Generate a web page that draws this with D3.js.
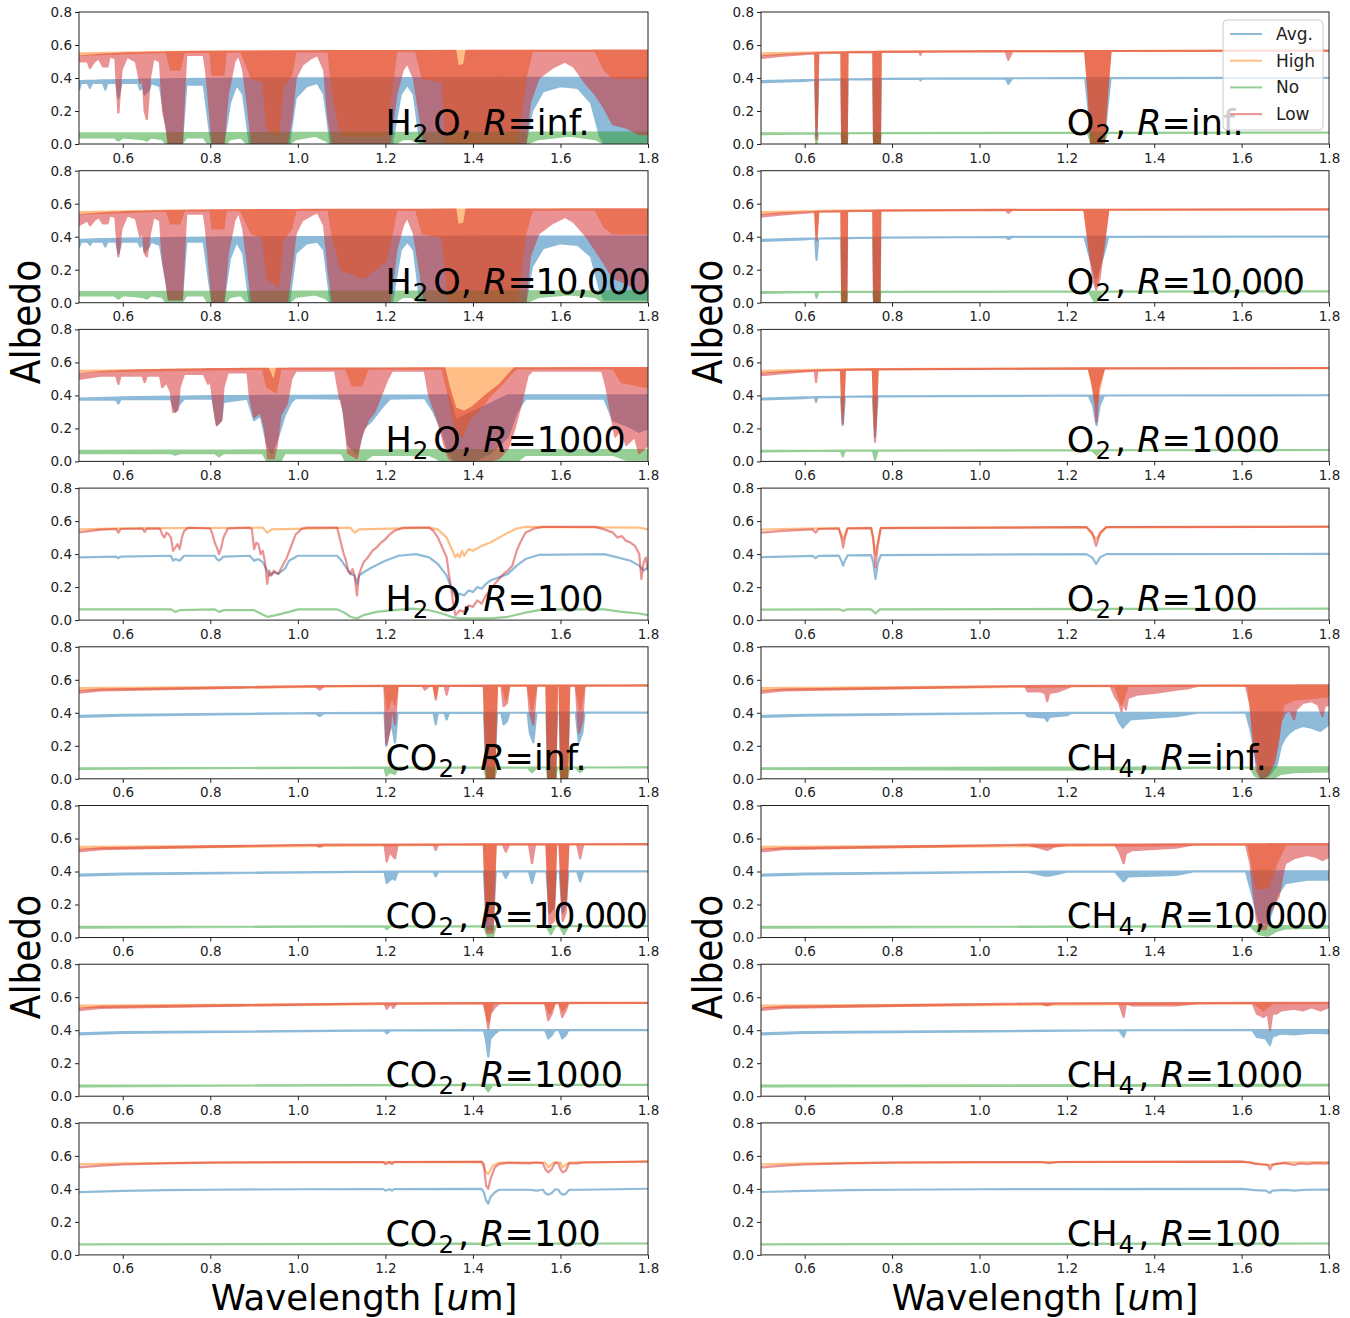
<!DOCTYPE html>
<html><head><meta charset="utf-8">
<script src="https://cdn.jsdelivr.net/npm/d3@7"></script>
<style>html,body{margin:0;padding:0;background:#fff;}svg{display:block;font-family:"DejaVu Sans",sans-serif;}</style>
</head><body>
<script>
// ---------------- DATA ----------------
const X_TICKS = [0.6, 0.8, 1.0, 1.2, 1.4, 1.6, 1.8];
const Y_TICKS = [0.0, 0.2, 0.4, 0.6, 0.8];
const SERIES_NAMES = ["Avg.", "High", "No", "Low"];

// continuum level of each series (albedo vs wavelength)
const CONT_AVG  = [[0.5,0.381],[0.55,0.385],[0.6,0.388],[0.7,0.392],[0.8,0.395],[1.0,0.398],[1.4,0.400],[1.8,0.401]];
const CONT_HIGH = [[0.5,0.549],[0.6,0.555],[0.7,0.558],[0.8,0.560],[1.0,0.562],[1.4,0.564],[1.8,0.565]];
const CONT_NO   = [[0.5,0.064],[1.0,0.067],[1.8,0.069]];
const CONT_LOW  = [[0.5,0.530],[0.55,0.541],[0.6,0.548],[0.7,0.555],[0.8,0.559],[1.0,0.562],[1.4,0.564],[1.8,0.566]];

// band panels: [wl] = at continuum, [wl, lower envelope], [wl, lower, upper]
const H2O_INF_LOW = [[0.5,0.50],[0.52,0.50],[0.525,0.46],[0.535,0.50],[0.545,0.52],[0.555,0.47],[0.565,0.47],[0.57,0.53],[0.583,0.52],[0.59,0.19],[0.597,0.45],[0.61,0.53],[0.63,0.50],[0.64,0.37],[0.645,0.45],[0.65,0.20],[0.655,0.15],[0.662,0.40],[0.67,0.52],[0.685,0.50],[0.692,0.20],[0.70,0.10],[0.705,0.0],[0.735,0.0],[0.74,0.30],[0.745,0.54],[0.785,0.54],[0.79,0.45],[0.795,0.32],[0.805,0.0],[0.83,0.0],[0.84,0.30],[0.855,0.50],[0.865,0.54],[0.875,0.45],[0.885,0.25],[0.895,0.0],[0.975,0.0],[0.985,0.15],[0.995,0.40],[1.01,0.48],[1.03,0.52],[1.045,0.54],[1.06,0.45],[1.07,0.15],[1.08,0.0],[1.21,0.0],[1.225,0.30],[1.24,0.45],[1.25,0.49],[1.265,0.40],[1.28,0.15],[1.29,0.0],[1.36,0.0],[1.365,0,0.47],[1.38,0,0.48],[1.385,0.0],[1.52,0.0],[1.53,0.25],[1.55,0.40],[1.58,0.46],[1.61,0.50],[1.63,0.47],[1.66,0.36],[1.68,0.30],[1.70,0.22],[1.72,0.12],[1.75,0.10],[1.78,0.06],[1.8,0.06]];
const H2O_INF_HIGH = [[0.5,0.54],[0.70],[0.71,0.45],[0.73,0.45],[0.74],[0.80],[0.805,0.42],[0.83,0.42],[0.835],[0.87],[0.88,0.50],[0.895,0.40],[0.92,0.38],[0.93,0.10],[0.955,0.05],[0.965,0.35],[0.985,0.42],[0.995],[1.07],[1.08,0.30],[1.10,0.05],[1.20,0.05],[1.215,0.35],[1.225],[1.27],[1.285,0.40],[1.33,0.38],[1.34,0.0],[1.50,0.0],[1.52,0.40],[1.535],[1.68],[1.70,0.45],[1.72,0.40],[1.8,0.40]];
const H2O_INF_AVG = [[0.5,0.33],[0.505,0.37],[0.52,0.37],[0.525,0.34],[0.53,0.37],[0.555,0.37],[0.56,0.33],[0.565,0.37],[0.585,0.37],[0.59,0.28],[0.597,0.37],[0.635,0.37],[0.64,0.33],[0.645,0.36],[0.65,0.30],[0.66,0.33],[0.665,0.37],[0.685,0.35],[0.70,0.10],[0.705,0.0],[0.735,0.0],[0.745,0.36],[0.785,0.36],[0.80,0.05],[0.805,0.0],[0.83,0.0],[0.845,0.25],[0.86,0.36],[0.875,0.30],[0.89,0.0],[0.98,0.0],[0.995,0.28],[1.02,0.35],[1.045,0.37],[1.06,0.30],[1.075,0.0],[1.215,0.0],[1.235,0.30],[1.25,0.36],[1.265,0.30],[1.28,0.0],[1.52,0.0],[1.535,0.20],[1.56,0.32],[1.60,0.35],[1.64,0.34],[1.67,0.25],[1.69,0.05],[1.70,0.0],[1.8,0.0]];
const H2O_INF_NO = [[0.5,0.04],[0.58,0.04],[0.59,0.02],[0.60,0.04],[0.645,0.03],[0.655,0.02],[0.665,0.04],[0.69,0.03],[0.70,0.0],[0.735,0.0],[0.745,0.04],[0.785,0.04],[0.795,0.0],[0.835,0.0],[0.845,0.03],[0.87,0.04],[0.885,0.0],[0.98,0.0],[0.995,0.03],[1.04,0.05],[1.065,0.02],[1.075,0.0],[1.22,0.0],[1.24,0.03],[1.26,0.03],[1.28,0.0],[1.52,0.0],[1.55,0.03],[1.62,0.05],[1.68,0.03],[1.70,0.0],[1.8,0.0]];

const H2O_10K_LOW = [[0.5,0.47],[0.52,0.50],[0.525,0.47],[0.535,0.50],[0.545,0.52],[0.555,0.48],[0.565,0.48],[0.57,0.53],[0.583,0.52],[0.59,0.28],[0.597,0.45],[0.61,0.53],[0.63,0.51],[0.64,0.40],[0.645,0.46],[0.65,0.30],[0.655,0.28],[0.662,0.42],[0.67,0.52],[0.685,0.50],[0.692,0.25],[0.70,0.12],[0.705,0.02],[0.735,0.02],[0.74,0.30],[0.745,0.54],[0.785,0.54],[0.79,0.45],[0.795,0.30],[0.805,0.0],[0.83,0.0],[0.84,0.30],[0.855,0.50],[0.865,0.55],[0.875,0.45],[0.885,0.25],[0.895,0.0],[0.975,0.0],[0.985,0.20],[0.995,0.42],[1.01,0.50],[1.03,0.53],[1.045,0.55],[1.06,0.47],[1.07,0.20],[1.08,0.0],[1.21,0.0],[1.225,0.32],[1.24,0.47],[1.25,0.52],[1.265,0.42],[1.28,0.18],[1.29,0.0],[1.36,0.0],[1.365,0,0.47],[1.38,0,0.48],[1.385,0.0],[1.52,0.0],[1.53,0.28],[1.55,0.42],[1.58,0.48],[1.61,0.52],[1.63,0.49],[1.66,0.40],[1.68,0.32],[1.70,0.24],[1.72,0.15],[1.75,0.12],[1.78,0.08],[1.8,0.08]];
const H2O_10K_HIGH = [[0.5,0.54],[0.70],[0.71,0.48],[0.73,0.48],[0.74],[0.80],[0.805,0.45],[0.83,0.45],[0.835],[0.87],[0.88,0.50],[0.895,0.42],[0.92,0.40],[0.93,0.15],[0.955,0.10],[0.965,0.38],[0.985,0.45],[0.995],[1.07],[1.08,0.40],[1.10,0.20],[1.15,0.15],[1.20,0.25],[1.215,0.42],[1.225],[1.27],[1.285,0.42],[1.33,0.40],[1.345,0.0],[1.50,0.0],[1.52,0.42],[1.535],[1.68],[1.70,0.46],[1.72,0.42],[1.8,0.42]];
const H2O_10K_AVG = [[0.5,0.34],[0.505,0.37],[0.52,0.37],[0.525,0.35],[0.53,0.37],[0.555,0.37],[0.56,0.34],[0.565,0.37],[0.585,0.37],[0.59,0.30],[0.597,0.37],[0.635,0.37],[0.64,0.34],[0.645,0.36],[0.65,0.31],[0.66,0.34],[0.665,0.37],[0.685,0.35],[0.70,0.12],[0.705,0.02],[0.735,0.02],[0.745,0.37],[0.785,0.37],[0.80,0.08],[0.805,0.0],[0.83,0.0],[0.845,0.27],[0.86,0.37],[0.875,0.30],[0.89,0.0],[0.98,0.0],[0.995,0.30],[1.02,0.36],[1.045,0.37],[1.06,0.32],[1.075,0.0],[1.215,0.0],[1.235,0.32],[1.25,0.37],[1.265,0.32],[1.28,0.0],[1.52,0.0],[1.535,0.22],[1.56,0.33],[1.60,0.36],[1.64,0.35],[1.67,0.28],[1.69,0.08],[1.70,0.02],[1.8,0.02]];
const H2O_10K_NO = [[0.5,0.045],[0.58,0.045],[0.59,0.025],[0.60,0.045],[0.645,0.035],[0.655,0.025],[0.665,0.045],[0.69,0.035],[0.70,0.0],[0.735,0.0],[0.745,0.045],[0.785,0.045],[0.795,0.0],[0.835,0.0],[0.845,0.035],[0.87,0.045],[0.885,0.0],[0.98,0.0],[0.995,0.035],[1.04,0.05],[1.065,0.025],[1.075,0.0],[1.22,0.0],[1.24,0.035],[1.26,0.035],[1.28,0.0],[1.52,0.0],[1.55,0.035],[1.62,0.05],[1.68,0.035],[1.70,0.0],[1.8,0.0]];

const H2O_1K_LOW = [[0.5,0.50],[0.55,0.52],[0.585,0.52],[0.59,0.47],[0.595,0.52],[0.645,0.52],[0.65,0.48],[0.655,0.52],[0.685,0.52],[0.69,0.45],[0.70,0.48],[0.71,0.42],[0.715,0.30],[0.725,0.31],[0.73,0.45],[0.74,0.53],[0.785,0.53],[0.795,0.47],[0.80,0.50],[0.81,0.30],[0.815,0.22],[0.825,0.25],[0.83,0.45],[0.84,0.54],[0.885,0.54],[0.89,0.40],[0.90,0.27],[0.915,0.30],[0.925,0.20],[0.932,0.02],[0.945,0.02,0.48],[0.952,0.10],[0.96,0.28],[0.975,0.35],[0.985,0.50],[0.995,0.55],[1.085,0.55],[1.095,0.40],[1.105,0.30],[1.115,0.05],[1.135,0.02],[1.145,0.15],[1.16,0.25],[1.175,0.30],[1.19,0.40],[1.205,0.50],[1.215,0.55],[1.29,0.55],[1.30,0.40],[1.32,0.25],[1.335,0.10],[1.345,0.02,0.45],[1.36,0.0,0.32],[1.38,0.0,0.30],[1.40,0.0,0.33],[1.43,0.0,0.40],[1.46,0.02,0.46],[1.48,0.08,0.52],[1.495,0.20],[1.51,0.35],[1.525,0.52],[1.535,0.55],[1.695,0.55],[1.705,0.45],[1.715,0.30],[1.725,0.15],[1.74,0.20],[1.75,0.10],[1.77,0.15],[1.78,0.05],[1.8,0.10]];
const H2O_1K_HIGH = [[0.5,0.545],[0.92],[0.93,0.45],[0.95,0.42],[0.96],[1.11],[1.125,0.46],[1.145,0.46],[1.16],[1.33],[1.345,0.40],[1.36,0.20],[1.375,0.15],[1.39,0.25],[1.41,0.30],[1.44,0.40],[1.47,0.48],[1.49,0.54],[1.50],[1.72],[1.74,0.48],[1.8,0.45]];
const H2O_1K_AVG = [[0.5,0.375],[0.585,0.375],[0.59,0.35],[0.595,0.378],[0.71,0.378],[0.72,0.30],[0.73,0.35],[0.74,0.38],[0.805,0.38],[0.815,0.22],[0.825,0.25],[0.83,0.36],[0.885,0.38],[0.90,0.25],[0.915,0.28],[0.93,0.10],[0.94,0.05],[0.955,0.15],[0.97,0.28],[0.985,0.36],[0.995,0.385],[1.10,0.38],[1.115,0.10],[1.135,0.05],[1.15,0.20],[1.17,0.25],[1.19,0.32],[1.21,0.38],[1.29,0.385],[1.31,0.30],[1.33,0.18],[1.345,0.05],[1.36,0.0,0.25],[1.40,0.0,0.30],[1.44,0.05,0.35],[1.48,0.15],[1.50,0.30],[1.52,0.38],[1.70,0.38],[1.72,0.25],[1.75,0.22],[1.78,0.18],[1.8,0.20]];
const H2O_1K_NO = [[0.5,0.05],[0.71,0.05],[0.72,0.04],[0.73,0.05],[0.81,0.05],[0.82,0.03],[0.83,0.05],[0.92,0.05],[0.93,0.0],[0.96,0.0],[0.97,0.05],[1.10,0.05],[1.11,0.0],[1.15,0.0],[1.17,0.04],[1.30,0.04],[1.33,0.0],[1.50,0.0],[1.52,0.04],[1.72,0.04],[1.75,0.01],[1.8,0.01]];

// line panels: [wl] = at continuum, [wl, value]
const H2O_100_LOW = [[0.5,0.532],[0.55,0.548],[0.585,0.552],[0.59,0.53],[0.595,0.552],[0.645,0.555],[0.65,0.535],[0.655,0.555],[0.685,0.555],[0.69,0.52],[0.695,0.50],[0.70,0.53],[0.705,0.52],[0.71,0.50],[0.715,0.42],[0.72,0.44],[0.725,0.46],[0.73,0.43],[0.735,0.50],[0.74,0.54],[0.75,0.56],[0.80,0.555],[0.805,0.52],[0.81,0.47],[0.815,0.44],[0.82,0.40],[0.825,0.44],[0.83,0.50],[0.84,0.555],[0.89,0.56],[0.895,0.55],[0.90,0.43],[0.905,0.47],[0.91,0.46],[0.915,0.40],[0.92,0.42],[0.925,0.35],[0.93,0.22],[0.935,0.30],[0.94,0.27],[0.945,0.30],[0.955,0.28],[0.965,0.33],[0.975,0.38],[0.985,0.45],[0.995,0.52],[1.01,0.555],[1.02,0.56],[1.09,0.56],[1.10,0.45],[1.105,0.40],[1.11,0.36],[1.115,0.30],[1.12,0.28],[1.125,0.31],[1.13,0.26],[1.135,0.15],[1.14,0.28],[1.15,0.35],[1.16,0.38],[1.17,0.42],[1.18,0.44],[1.19,0.47],[1.20,0.49],[1.21,0.52],[1.22,0.54],[1.24,0.56],[1.30,0.56],[1.31,0.54],[1.32,0.50],[1.33,0.44],[1.34,0.38],[1.345,0.28],[1.35,0.20],[1.355,0.10],[1.36,0.03],[1.37,0.06],[1.38,0.05],[1.39,0.09],[1.40,0.08],[1.41,0.12],[1.42,0.10],[1.43,0.15],[1.44,0.18],[1.45,0.22],[1.46,0.25],[1.47,0.28],[1.48,0.30],[1.49,0.33],[1.50,0.42],[1.51,0.48],[1.52,0.53],[1.54,0.555],[1.56,0.565],[1.68,0.565],[1.70,0.55],[1.72,0.53],[1.73,0.50],[1.74,0.51],[1.75,0.48],[1.76,0.47],[1.77,0.45],[1.78,0.40],[1.785,0.25],[1.79,0.35],[1.795,0.38],[1.8,0.30]];
const H2O_100_HIGH = [[0.5,0.55],[0.6,0.556],[0.92,0.56],[0.93,0.53],[0.94,0.55],[1.12,0.56],[1.13,0.53],[1.14,0.55],[1.30,0.56],[1.32,0.55],[1.34,0.50],[1.35,0.44],[1.36,0.38],[1.365,0.40],[1.37,0.38],[1.375,0.42],[1.38,0.39],[1.39,0.43],[1.40,0.42],[1.42,0.45],[1.44,0.47],[1.46,0.50],[1.48,0.53],[1.50,0.555],[1.52,0.565],[1.78,0.56],[1.8,0.55]];
const H2O_100_AVG = [[0.5,0.38],[0.585,0.385],[0.59,0.375],[0.595,0.385],[0.71,0.39],[0.715,0.36],[0.72,0.37],[0.73,0.36],[0.74,0.39],[0.81,0.39],[0.815,0.37],[0.82,0.36],[0.83,0.385],[0.89,0.39],[0.90,0.36],[0.91,0.37],[0.92,0.35],[0.93,0.30],[0.935,0.27],[0.945,0.29],[0.955,0.28],[0.97,0.31],[0.98,0.36],[1.0,0.39],[1.09,0.39],[1.10,0.36],[1.11,0.32],[1.12,0.28],[1.13,0.27],[1.135,0.22],[1.14,0.27],[1.15,0.29],[1.17,0.32],[1.20,0.36],[1.23,0.39],[1.27,0.40],[1.30,0.38],[1.32,0.34],[1.34,0.27],[1.35,0.20],[1.36,0.14],[1.37,0.16],[1.38,0.15],[1.39,0.18],[1.40,0.17],[1.41,0.20],[1.42,0.19],[1.43,0.22],[1.44,0.24],[1.46,0.26],[1.48,0.28],[1.50,0.33],[1.52,0.37],[1.55,0.395],[1.70,0.40],[1.73,0.38],[1.76,0.36],[1.78,0.33],[1.79,0.30],[1.8,0.32]];
const H2O_100_NO = [[0.5,0.065],[0.71,0.065],[0.72,0.05],[0.73,0.06],[0.81,0.065],[0.82,0.05],[0.83,0.06],[0.90,0.06],[0.93,0.02],[0.95,0.03],[0.98,0.05],[1.0,0.065],[1.09,0.065],[1.11,0.04],[1.12,0.02],[1.135,0.01],[1.15,0.03],[1.18,0.05],[1.22,0.06],[1.26,0.07],[1.30,0.06],[1.33,0.04],[1.35,0.02],[1.37,0.01],[1.44,0.01],[1.48,0.02],[1.52,0.045],[1.56,0.065],[1.70,0.065],[1.74,0.05],[1.78,0.04],[1.8,0.03]];

const O2_INF_LOW = [[0.5,0.522],[0.55,0.535],[0.624],[0.627,0.03],[0.631],[0.684],[0.686,0.0],[0.696,0.0],[0.698],[0.757],[0.759,0.0],[0.772,0.0],[0.774],[0.862],[0.865,0.54],[0.868],[1.06],[1.066,0.51],[1.075],[1.242],[1.25,0.30],[1.256,0.0],[1.284,0.0],[1.292,0.30],[1.30],[1.8]];
const O2_INF_HIGH = [[0.5,0.54],[0.624],[0.627,0.10],[0.631],[0.684],[0.686,0.0],[0.696,0.0],[0.698],[0.757],[0.759,0.0],[0.772,0.0],[0.774],[1.242],[1.25,0.30],[1.256,0.0],[1.284,0.0],[1.292,0.30],[1.30],[1.8]];
const O2_INF_AVG = [[0.5,0.375],[0.6,0.383],[0.624],[0.627,0.05],[0.631],[0.684],[0.686,0.0],[0.696,0.0],[0.698],[0.757],[0.759,0.0],[0.772,0.0],[0.774],[0.862],[0.865,0.385],[0.868],[1.06],[1.066,0.365],[1.075],[1.242],[1.25,0.20],[1.256,0.0],[1.284,0.0],[1.292,0.20],[1.30],[1.8]];
const O2_INF_NO = [[0.5,0.06],[0.624],[0.627,0.0],[0.631],[0.684],[0.686,0.0],[0.696,0.0],[0.698],[0.757],[0.759,0.0],[0.772,0.0],[0.774],[1.248],[1.256,0.0],[1.284,0.0],[1.292],[1.8]];

const O2_10K_LOW = [[0.5,0.522],[0.55,0.535],[0.624],[0.627,0.38],[0.631],[0.684],[0.686,0.0],[0.695,0.0],[0.697],[0.757],[0.759,0.0],[0.771,0.0],[0.773],[1.06],[1.066,0.545],[1.075],[1.24],[1.25,0.35],[1.26,0.15],[1.267,0.08],[1.275,0.15],[1.285,0.35],[1.295],[1.8]];
const O2_10K_HIGH = [[0.5,0.54],[0.624],[0.627,0.40],[0.631],[0.684],[0.686,0.0],[0.695,0.0],[0.697],[0.757],[0.759,0.0],[0.771,0.0],[0.773],[1.24],[1.25,0.38],[1.267,0.10],[1.285,0.38],[1.295],[1.8]];
const O2_10K_AVG = [[0.5,0.375],[0.6,0.383],[0.624],[0.627,0.26],[0.631],[0.684],[0.686,0.0],[0.695,0.0],[0.697],[0.757],[0.759,0.0],[0.771,0.0],[0.773],[1.06],[1.066,0.385],[1.075],[1.24],[1.25,0.30],[1.267,0.15],[1.285,0.30],[1.295],[1.8]];
const O2_10K_NO = [[0.5,0.06],[0.624],[0.627,0.03],[0.631],[0.684],[0.686,0.0],[0.695,0.0],[0.697],[0.757],[0.759,0.0],[0.771,0.0],[0.773],[1.25],[1.265,0.0],[1.28],[1.8]];

const O2_1K_LOW = [[0.5,0.522],[0.55,0.535],[0.623],[0.626,0.48],[0.629],[0.683],[0.687,0.23],[0.692],[0.756],[0.761,0.12],[0.767],[1.25],[1.258,0.48],[1.265,0.35],[1.268,0.24],[1.272,0.45],[1.285],[1.8]];
const O2_1K_HIGH = [[0.5,0.54],[0.683],[0.687,0.30],[0.692],[0.756],[0.761,0.20],[0.767],[1.25],[1.268,0.35],[1.285],[1.8]];
const O2_1K_AVG = [[0.5,0.375],[0.6,0.383],[0.623],[0.626,0.36],[0.629],[0.683],[0.687,0.22],[0.692],[0.756],[0.761,0.15],[0.767],[1.25],[1.26,0.34],[1.268,0.22],[1.275,0.34],[1.285],[1.8]];
const O2_1K_NO = [[0.5,0.06],[0.683],[0.687,0.03],[0.692],[0.756],[0.761,0.01],[0.767],[1.258],[1.268,0.04],[1.278],[1.8]];

const O2_100_LOW = [[0.5,0.53],[0.55,0.541],[0.618,0.55],[0.625,0.53],[0.632,0.552],[0.678,0.555],[0.684,0.50],[0.688,0.44],[0.692,0.50],[0.698,0.555],[0.752,0.557],[0.757,0.50],[0.762,0.32],[0.767,0.45],[0.774,0.557],[1.245,0.563],[1.258,0.53],[1.267,0.45],[1.276,0.53],[1.29,0.563],[1.8,0.566]];
const O2_100_HIGH = [[0.5,0.549],[0.6,0.555],[0.678,0.558],[0.688,0.49],[0.698,0.558],[0.752,0.559],[0.762,0.40],[0.774,0.559],[1.245,0.563],[1.267,0.49],[1.29,0.564],[1.8,0.565]];
const O2_100_AVG = [[0.5,0.381],[0.6,0.388],[0.618,0.389],[0.625,0.375],[0.632,0.389],[0.678,0.391],[0.684,0.36],[0.688,0.33],[0.692,0.36],[0.698,0.392],[0.752,0.394],[0.757,0.35],[0.762,0.25],[0.767,0.34],[0.774,0.394],[1.245,0.40],[1.258,0.38],[1.267,0.34],[1.276,0.38],[1.29,0.40],[1.8,0.401]];
const O2_100_NO = [[0.5,0.064],[0.68,0.065],[0.688,0.055],[0.696,0.065],[0.752,0.065],[0.762,0.04],[0.772,0.065],[1.25,0.068],[1.267,0.06],[1.285,0.068],[1.8,0.069]];

const CO2_INF_LOW = [[0.5,0.522],[0.55,0.535],[1.04],[1.05,0.54],[1.06],[1.198],[1.202,0.21],[1.21,0.30],[1.215,0.45],[1.222,0.33],[1.228],[1.285],[1.29,0.54],[1.30],[1.31],[1.315,0.48],[1.32],[1.335],[1.34,0.51],[1.345],[1.425],[1.432,0.0],[1.448,0.0],[1.455],[1.465],[1.47,0.44],[1.478,0.46],[1.483],[1.525],[1.53,0.40],[1.538,0.33],[1.545],[1.568],[1.572,0.0],[1.588,0.0],[1.592],[1.598],[1.602,0.0],[1.615,0.0],[1.62],[1.635],[1.642,0.28],[1.65,0.35],[1.655],[1.8]];
const CO2_INF_HIGH = [[0.5,0.54],[1.198],[1.205,0.42],[1.215,0.50],[1.222,0.45],[1.228],[1.31],[1.315,0.50],[1.32],[1.425],[1.432,0.0],[1.448,0.0],[1.455],[1.468],[1.475,0.48],[1.483],[1.525],[1.535,0.42],[1.545],[1.568],[1.572,0.0],[1.588,0.0],[1.592],[1.598],[1.602,0.0],[1.615,0.0],[1.62],[1.635],[1.645,0.42],[1.655],[1.8]];
const CO2_INF_AVG = [[0.5,0.375],[0.6,0.383],[1.04],[1.05,0.38],[1.06],[1.198],[1.202,0.20],[1.21,0.30],[1.215,0.33],[1.222,0.22],[1.228],[1.31],[1.315,0.33],[1.32],[1.335],[1.34,0.36],[1.345],[1.425],[1.432,0.0],[1.448,0.0],[1.455],[1.465],[1.47,0.33],[1.478,0.35],[1.483],[1.525],[1.53,0.28],[1.538,0.22],[1.545],[1.568],[1.572,0.0],[1.588,0.0],[1.592],[1.598],[1.602,0.0],[1.615,0.0],[1.62],[1.635],[1.642,0.22],[1.65,0.28],[1.655],[1.8]];
const CO2_INF_NO = [[0.5,0.06],[1.198],[1.202,0.02],[1.21,0.04],[1.222,0.03],[1.228],[1.425],[1.432,0.0],[1.448,0.0],[1.455],[1.525],[1.535,0.04],[1.545],[1.568],[1.572,0.0],[1.588,0.0],[1.592],[1.598],[1.602,0.0],[1.615,0.0],[1.62],[1.635],[1.645,0.04],[1.655],[1.8]];

const CO2_10K_LOW = [[0.5,0.522],[0.55,0.535],[1.04],[1.05,0.55],[1.06],[1.198],[1.203,0.46],[1.21,0.52],[1.215,0.50],[1.222,0.48],[1.228],[1.31],[1.315,0.53],[1.32],[1.425],[1.432,0.03],[1.445,0.03],[1.452],[1.468],[1.475,0.52],[1.483],[1.528],[1.535,0.45],[1.542],[1.568],[1.575,0.08],[1.585,0.10],[1.59],[1.598],[1.605,0.10],[1.612,0.15],[1.618],[1.638],[1.645,0.48],[1.652],[1.8]];
const CO2_10K_HIGH = [[0.5,0.54],[1.425],[1.432,0.10],[1.445,0.15],[1.452],[1.568],[1.575,0.15],[1.585,0.20],[1.59],[1.598],[1.605,0.20],[1.612,0.25],[1.618],[1.8]];
const CO2_10K_AVG = [[0.5,0.375],[0.6,0.383],[1.198],[1.203,0.33],[1.215,0.36],[1.222,0.35],[1.228],[1.31],[1.315,0.37],[1.32],[1.425],[1.432,0.05],[1.445,0.05],[1.452],[1.468],[1.475,0.36],[1.483],[1.528],[1.535,0.33],[1.542],[1.568],[1.575,0.15],[1.585,0.18],[1.59],[1.598],[1.605,0.15],[1.612,0.20],[1.618],[1.638],[1.645,0.34],[1.652],[1.8]];
const CO2_10K_NO = [[0.5,0.06],[1.198],[1.203,0.05],[1.21],[1.425],[1.435,0.0],[1.445,0.0],[1.452],[1.568],[1.578,0.02],[1.588],[1.598],[1.608,0.02],[1.618],[1.8]];

const CO2_1K_LOW = [[0.5,0.522],[0.55,0.535],[1.198],[1.203,0.53],[1.212],[1.218,0.535],[1.225],[1.425],[1.43,0.50],[1.435,0.41],[1.44,0.50],[1.45,0.54],[1.46],[1.565],[1.572,0.46],[1.58,0.50],[1.587],[1.597],[1.604,0.48],[1.612,0.52],[1.618],[1.8]];
const CO2_1K_HIGH = [[0.5,0.54],[1.425],[1.435,0.45],[1.445],[1.565],[1.575,0.50],[1.587],[1.597],[1.605,0.52],[1.618],[1.8]];
const CO2_1K_AVG = [[0.5,0.375],[0.6,0.383],[1.198],[1.203,0.38],[1.212],[1.425],[1.43,0.34],[1.435,0.24],[1.44,0.35],[1.45,0.38],[1.46],[1.565],[1.572,0.35],[1.58,0.37],[1.587],[1.597],[1.604,0.35],[1.612,0.37],[1.618],[1.8]];
const CO2_1K_NO = [[0.5,0.06],[1.425],[1.435,0.03],[1.445],[1.8]];

const CO2_100_LOW = [[0.5,0.53],[0.55,0.541],[0.6,0.548],[0.7,0.555],[0.8,0.559],[1.0,0.562],[1.195,0.563],[1.20,0.55],[1.205,0.555],[1.21,0.562],[1.215,0.55],[1.22,0.563],[1.42,0.564],[1.425,0.55],[1.43,0.42],[1.435,0.40],[1.44,0.46],[1.45,0.53],[1.46,0.55],[1.48,0.558],[1.53,0.555],[1.545,0.56],[1.56,0.555],[1.565,0.52],[1.572,0.50],[1.58,0.52],[1.588,0.56],[1.595,0.555],[1.60,0.52],[1.605,0.50],[1.612,0.51],[1.62,0.555],[1.64,0.555],[1.65,0.56],[1.8,0.566]];
const CO2_100_HIGH = [[0.5,0.549],[0.6,0.555],[0.8,0.560],[1.42,0.564],[1.43,0.50],[1.435,0.49],[1.445,0.54],[1.46,0.56],[1.565,0.56],[1.572,0.53],[1.585,0.56],[1.6,0.56],[1.605,0.53],[1.62,0.56],[1.8,0.565]];
const CO2_100_AVG = [[0.5,0.381],[0.6,0.388],[0.7,0.392],[0.8,0.395],[1.0,0.398],[1.195,0.399],[1.20,0.39],[1.21,0.398],[1.215,0.39],[1.22,0.399],[1.42,0.400],[1.425,0.38],[1.43,0.33],[1.435,0.31],[1.44,0.35],[1.45,0.38],[1.46,0.395],[1.53,0.395],[1.545,0.39],[1.56,0.395],[1.565,0.375],[1.572,0.365],[1.58,0.375],[1.588,0.398],[1.595,0.395],[1.60,0.375],[1.605,0.365],[1.612,0.37],[1.62,0.395],[1.65,0.395],[1.8,0.401]];
const CO2_100_NO = [[0.5,0.064],[1.42,0.068],[1.43,0.055],[1.44,0.062],[1.45,0.068],[1.8,0.069]];

const CH4_INF_LOW = [[0.5,0.522],[0.55,0.535],[1.105],[1.11,0.53],[1.14,0.53],[1.15,0.52],[1.155,0.47],[1.16,0.52],[1.18,0.53],[1.20,0.55],[1.21],[1.30],[1.31,0.50],[1.32,0.46],[1.325,0.41],[1.33,0.47],[1.335,0.42],[1.34,0.49],[1.36,0.51],[1.40,0.52],[1.45,0.54],[1.48,0.55],[1.50],[1.61],[1.62,0.45],[1.625,0.30],[1.635,0.05],[1.645,0.0],[1.66,0.02],[1.665,0.05],[1.675,0.10],[1.685,0.25],[1.69,0.35],[1.70,0.40],[1.71,0.42],[1.72,0.36],[1.725,0.42],[1.74,0.46],[1.76,0.47],[1.775,0.45],[1.785,0.38],[1.79,0.44],[1.8,0.45]];
const CH4_INF_HIGH = [[0.5,0.54],[1.31],[1.325,0.45],[1.34],[1.615],[1.63,0.20],[1.645,0.05],[1.665,0.05],[1.68,0.20],[1.695,0.45],[1.72,0.48],[1.8,0.50]];
const CH4_INF_AVG = [[0.5,0.375],[0.6,0.383],[1.105],[1.11,0.38],[1.15,0.37],[1.155,0.35],[1.16,0.375],[1.20,0.385],[1.21],[1.31],[1.32,0.34],[1.328,0.31],[1.335,0.33],[1.345,0.36],[1.40,0.37],[1.45,0.38],[1.50],[1.61],[1.62,0.30],[1.635,0.10],[1.645,0.0],[1.665,0.03],[1.68,0.08],[1.69,0.20],[1.70,0.25],[1.71,0.28],[1.72,0.30],[1.74,0.32],[1.76,0.31],[1.78,0.29],[1.8,0.33]];
const CH4_INF_NO = [[0.5,0.06],[1.11,0.055],[1.20,0.055],[1.30,0.06],[1.33,0.055],[1.50],[1.62],[1.63,0.02],[1.645,0.0],[1.67,0.0],[1.69,0.03],[1.72,0.04],[1.8,0.045]];

const CH4_10K_LOW = [[0.5,0.522],[0.55,0.535],[1.11],[1.13,0.55],[1.155,0.53],[1.17,0.55],[1.20],[1.31],[1.32,0.52],[1.33,0.45],[1.335,0.51],[1.35,0.53],[1.45,0.545],[1.49],[1.61],[1.62,0.45],[1.635,0.10],[1.645,0.05],[1.655,0.05],[1.665,0.15],[1.675,0.20],[1.685,0.25],[1.695,0.40],[1.70,0.45],[1.72,0.48],[1.75,0.50],[1.77,0.49],[1.785,0.47],[1.8,0.49]];
const CH4_10K_HIGH = [[0.5,0.54],[1.615],[1.635,0.30],[1.66,0.30],[1.68,0.45],[1.70],[1.8]];
const CH4_10K_AVG = [[0.5,0.375],[0.6,0.383],[1.11],[1.15,0.375],[1.16,0.375],[1.20],[1.31],[1.33,0.34],[1.34,0.37],[1.45,0.38],[1.49],[1.61],[1.62,0.30],[1.64,0.10],[1.66,0.08],[1.68,0.25],[1.70,0.33],[1.75,0.35],[1.8,0.35]];
const CH4_10K_NO = [[0.5,0.06],[1.62],[1.64,0.02],[1.66,0.01],[1.68,0.04],[1.70,0.055],[1.8,0.06]];

const CH4_1K_LOW = [[0.5,0.522],[0.55,0.535],[1.14],[1.155,0.55],[1.17],[1.32],[1.33,0.48],[1.335],[1.35,0.55],[1.45,0.55],[1.50],[1.625],[1.635,0.50],[1.65,0.48],[1.66,0.50],[1.665,0.40],[1.67,0.50],[1.68,0.50],[1.69,0.52],[1.72,0.53],[1.74,0.52],[1.76,0.54],[1.78,0.52],[1.8,0.54]];
const CH4_1K_HIGH = [[0.5,0.54],[1.63],[1.65,0.52],[1.67],[1.8]];
const CH4_1K_AVG = [[0.5,0.375],[0.6,0.383],[1.32],[1.33,0.36],[1.335],[1.625],[1.635,0.36],[1.655,0.35],[1.665,0.31],[1.67,0.36],[1.69,0.38],[1.72,0.375],[1.76,0.385],[1.8,0.38]];
const CH4_1K_NO = [[0.5,0.06],[1.8,0.065]];

const CH4_100_LOW = [[0.5,0.53],[0.55,0.541],[0.6,0.548],[0.7,0.555],[0.8,0.559],[1.0,0.562],[1.14,0.563],[1.16,0.556],[1.18,0.563],[1.6,0.565],[1.62,0.56],[1.63,0.552],[1.645,0.548],[1.66,0.545],[1.665,0.518],[1.67,0.545],[1.68,0.552],[1.70,0.556],[1.72,0.545],[1.735,0.555],[1.75,0.55],[1.77,0.556],[1.79,0.553],[1.8,0.556]];
const CH4_100_HIGH = [[0.5,0.549],[0.6,0.555],[0.8,0.56],[1.6,0.565],[1.665,0.545],[1.7,0.56],[1.8,0.562]];
const CH4_100_AVG = [[0.5,0.381],[0.6,0.388],[0.7,0.392],[0.8,0.395],[1.0,0.398],[1.6,0.400],[1.63,0.393],[1.655,0.39],[1.665,0.375],[1.67,0.39],[1.70,0.394],[1.72,0.39],[1.75,0.395],[1.8,0.396]];
const CH4_100_NO = [[0.5,0.064],[1.0,0.067],[1.8,0.069]];

const MOLECULES = {
  H2O: [["H",0],["2",1],["O",0]],
  O2:  [["O",0],["2",1]],
  CO2: [["CO",0],["2",1]],
  CH4: [["CH",0],["4",1]]
};
const RESOLUTIONS = {INF: "inf.", R10K: "10,000", R1K: "1000", R100: "100"};

const PANELS = [
  {col:0,row:0,mol:"H2O",res:RESOLUTIONS.INF, kind:"band",s:[H2O_INF_AVG,H2O_INF_HIGH,H2O_INF_NO,H2O_INF_LOW]},
  {col:0,row:1,mol:"H2O",res:RESOLUTIONS.R10K,kind:"band",s:[H2O_10K_AVG,H2O_10K_HIGH,H2O_10K_NO,H2O_10K_LOW]},
  {col:0,row:2,mol:"H2O",res:RESOLUTIONS.R1K, kind:"band",s:[H2O_1K_AVG,H2O_1K_HIGH,H2O_1K_NO,H2O_1K_LOW]},
  {col:0,row:3,mol:"H2O",res:RESOLUTIONS.R100,kind:"line",s:[H2O_100_AVG,H2O_100_HIGH,H2O_100_NO,H2O_100_LOW]},
  {col:0,row:4,mol:"CO2",res:RESOLUTIONS.INF, kind:"band",s:[CO2_INF_AVG,CO2_INF_HIGH,CO2_INF_NO,CO2_INF_LOW]},
  {col:0,row:5,mol:"CO2",res:RESOLUTIONS.R10K,kind:"band",s:[CO2_10K_AVG,CO2_10K_HIGH,CO2_10K_NO,CO2_10K_LOW]},
  {col:0,row:6,mol:"CO2",res:RESOLUTIONS.R1K, kind:"band",s:[CO2_1K_AVG,CO2_1K_HIGH,CO2_1K_NO,CO2_1K_LOW]},
  {col:0,row:7,mol:"CO2",res:RESOLUTIONS.R100,kind:"line",s:[CO2_100_AVG,CO2_100_HIGH,CO2_100_NO,CO2_100_LOW]},
  {col:1,row:0,mol:"O2", res:RESOLUTIONS.INF, kind:"band",s:[O2_INF_AVG,O2_INF_HIGH,O2_INF_NO,O2_INF_LOW],legend:true},
  {col:1,row:1,mol:"O2", res:RESOLUTIONS.R10K,kind:"band",s:[O2_10K_AVG,O2_10K_HIGH,O2_10K_NO,O2_10K_LOW]},
  {col:1,row:2,mol:"O2", res:RESOLUTIONS.R1K, kind:"band",s:[O2_1K_AVG,O2_1K_HIGH,O2_1K_NO,O2_1K_LOW]},
  {col:1,row:3,mol:"O2", res:RESOLUTIONS.R100,kind:"line",s:[O2_100_AVG,O2_100_HIGH,O2_100_NO,O2_100_LOW]},
  {col:1,row:4,mol:"CH4",res:RESOLUTIONS.INF, kind:"band",s:[CH4_INF_AVG,CH4_INF_HIGH,CH4_INF_NO,CH4_INF_LOW]},
  {col:1,row:5,mol:"CH4",res:RESOLUTIONS.R10K,kind:"band",s:[CH4_10K_AVG,CH4_10K_HIGH,CH4_10K_NO,CH4_10K_LOW]},
  {col:1,row:6,mol:"CH4",res:RESOLUTIONS.R1K, kind:"band",s:[CH4_1K_AVG,CH4_1K_HIGH,CH4_1K_NO,CH4_1K_LOW]},
  {col:1,row:7,mol:"CH4",res:RESOLUTIONS.R100,kind:"line",s:[CH4_100_AVG,CH4_100_HIGH,CH4_100_NO,CH4_100_LOW]}
];

// ---------------- LAYOUT / STYLE ----------------
const W = 1350, H = 1318;
const COLORS = ["#1f77b4", "#ff7f0e", "#2ca02c", "#d62728"];
const CONTS = [CONT_AVG, CONT_HIGH, CONT_NO, CONT_LOW];
const ALPHA = 0.5;
const COLS = [{x0: 79, x1: 648}, {x0: 761, x1: 1329}];
const ROW_TOP = 12, ROW_STEP = 158.7, PH = 132;

const svg = d3.select("body").append("svg").attr("width", W).attr("height", H);
svg.append("rect").attr("width", W).attr("height", H).attr("fill", "#fff");
const defs = svg.append("defs");

const contFns = CONTS.map(c => d3.scaleLinear().domain(c.map(d => d[0])).range(c.map(d => d[1])));

PANELS.forEach((p, pi) => {
  const c = COLS[p.col];
  const top = ROW_TOP + p.row * ROW_STEP;
  const x = d3.scaleLinear().domain([0.5, 1.8]).range([c.x0, c.x1]);
  const y = d3.scaleLinear().domain([0, 0.8]).range([top + PH, top]);
  const g = svg.append("g");
  const cid = "clip" + pi;
  defs.append("clipPath").attr("id", cid).append("rect")
    .attr("x", c.x0).attr("y", top).attr("width", c.x1 - c.x0).attr("height", PH);
  const plot = g.append("g").attr("clip-path", `url(#${cid})`);

  p.s.forEach((pts, si) => {
    const cf = contFns[si];
    const sg = plot.append("g").attr("opacity", ALPHA);
    if (p.kind === "band") {
      const data = pts.map(q => ({wl: q[0], lo: q.length > 1 ? q[1] : cf(q[0]), hi: q.length > 2 ? q[2] : cf(q[0])}));
      const area = d3.area().x(d => x(d.wl)).y0(d => y(d.lo)).y1(d => y(d.hi));
      sg.append("path").attr("d", area(data)).attr("fill", COLORS[si])
        .attr("stroke", COLORS[si]).attr("stroke-width", 2.2).attr("stroke-linejoin", "round");
    } else {
      const data = pts.map(q => ({wl: q[0], v: q.length > 1 ? q[1] : cf(q[0])}));
      const line = d3.line().x(d => x(d.wl)).y(d => y(d.v));
      sg.append("path").attr("d", line(data)).attr("fill", "none")
        .attr("stroke", COLORS[si]).attr("stroke-width", 2.2).attr("stroke-linejoin", "round");
    }
  });

  // axes
  const ax = g.append("g").attr("transform", `translate(0,${top + PH})`)
    .call(d3.axisBottom(x).tickValues(X_TICKS).tickFormat(d3.format(".1f")).tickSize(4).tickPadding(5));
  const ay = g.append("g").attr("transform", `translate(${c.x0},0)`)
    .call(d3.axisLeft(y).tickValues(Y_TICKS).tickFormat(d3.format(".1f")).tickSize(4).tickPadding(3));
  [ax, ay].forEach(a => {
    a.select(".domain").remove();
    a.selectAll("line").attr("stroke", "#222");
    a.selectAll("text").attr("font-size", 13.5).attr("fill", "#222").attr("font-family", "DejaVu Sans");
  });
  g.append("rect").attr("x", c.x0).attr("y", top).attr("width", c.x1 - c.x0).attr("height", PH)
    .attr("fill", "none").attr("stroke", "#222").attr("stroke-width", 1);

  // panel label
  const t = g.append("text").attr("x", x(1.2)).attr("y", y(0.055))
    .attr("font-size", 35).attr("fill", "#000").attr("font-family", "DejaVu Sans");
  let shifted = false;
  MOLECULES[p.mol].forEach(([s, sub]) => {
    const ts = t.append("tspan").text(s);
    if (sub) { ts.attr("font-size", 24.5).attr("dy", 7).attr("dx", 1); shifted = true; }
    else if (shifted) { ts.attr("dy", -7).attr("dx", 5); shifted = false; }
  });
  const comma = t.append("tspan").text(", ");
  if (shifted) comma.attr("dy", -7).attr("dx", 4);
  t.append("tspan").attr("font-style", "italic").text("R");
  const rt = t.append("tspan").text("=" + p.res);
  if (p.res.includes(",")) rt.attr("letter-spacing", -1.4);

  if (p.legend) {
    const lg = g.append("g");
    lg.append("rect").attr("x", 1223).attr("y", 20).attr("width", 100).attr("height", 110)
      .attr("rx", 4).attr("fill", "#fff").attr("fill-opacity", 0.8).attr("stroke", "#cccccc");
    SERIES_NAMES.forEach((n, i) => {
      const yy = 34 + i * 26.7;
      lg.append("line").attr("x1", 1230).attr("x2", 1262).attr("y1", yy).attr("y2", yy)
        .attr("stroke", COLORS[i]).attr("stroke-opacity", ALPHA).attr("stroke-width", 2);
      lg.append("text").attr("x", 1276).attr("y", yy + 6).attr("font-size", 17)
        .attr("font-family", "DejaVu Sans").attr("fill", "#222").text(n);
    });
  }
});

// axis titles
[[40, 322], [722, 322], [40, 957], [722, 957]].forEach(([xx, yy]) => {
  svg.append("text").attr("transform", `translate(${xx},${yy}) rotate(-90) scale(0.9,1)`)
    .attr("text-anchor", "middle").attr("font-size", 40).attr("font-family", "DejaVu Sans")
    .text("Albedo");
});
[[364, 1310], [1045, 1310]].forEach(([xx, yy]) => {
  const t = svg.append("text").attr("transform", `translate(${xx},${yy})`)
    .attr("text-anchor", "middle").attr("font-size", 35.5).attr("font-family", "DejaVu Sans");
  t.append("tspan").text("Wavelength [");
  t.append("tspan").attr("font-style", "italic").text("u");
  t.append("tspan").text("m]");
});
</script>
</body></html>
